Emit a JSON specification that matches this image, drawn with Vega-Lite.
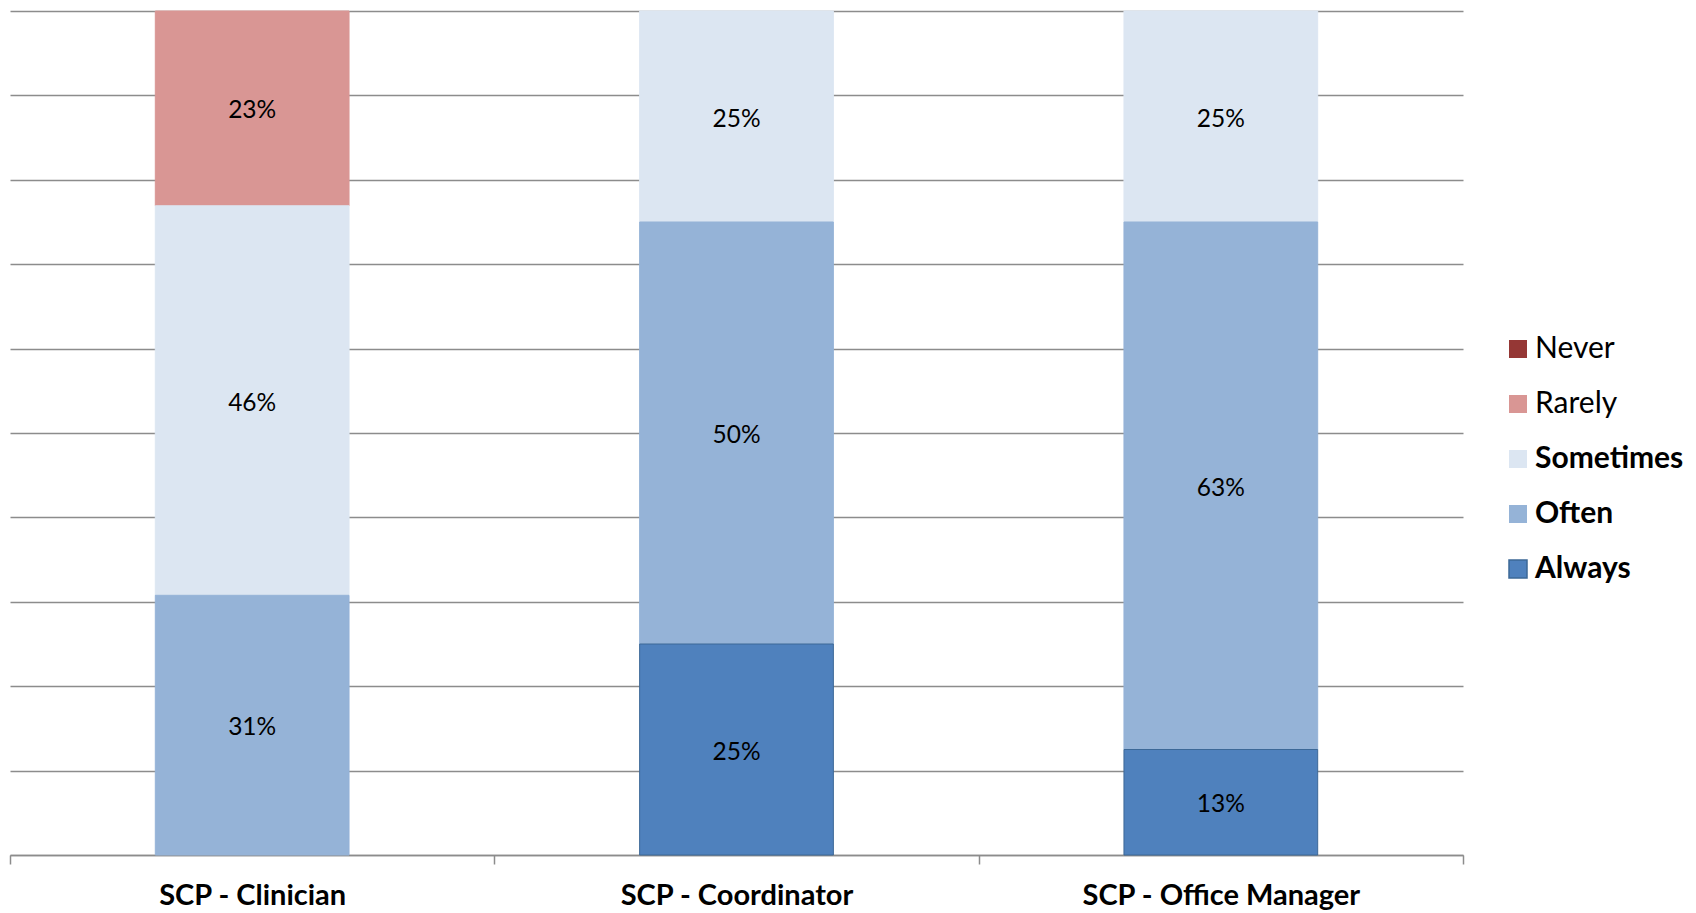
{
  "$schema": "https://vega.github.io/schema/vega-lite/v6.json",
  "width": 1453,
  "height": 844,
  "autosize": {"type": "none"},
  "padding": {"left": 10, "top": 11, "right": 233, "bottom": 58},
  "background": "white",
  "data": {"values": [
    {"role": "SCP - Clinician", "response": "Rarely", "value": 0.2308},
    {"role": "SCP - Clinician", "response": "Sometimes", "value": 0.4615},
    {"role": "SCP - Clinician", "response": "Often", "value": 0.3077},
    {"role": "SCP - Coordinator", "response": "Sometimes", "value": 0.25},
    {"role": "SCP - Coordinator", "response": "Often", "value": 0.5},
    {"role": "SCP - Coordinator", "response": "Always", "value": 0.25},
    {"role": "SCP - Office Manager", "response": "Sometimes", "value": 0.25},
    {"role": "SCP - Office Manager", "response": "Often", "value": 0.625},
    {"role": "SCP - Office Manager", "response": "Always", "value": 0.125}
  ]},
  "transform": [
    {"calculate": "indexof(['Always','Often','Sometimes','Rarely','Never'], datum.response)", "as": "ord"},
    {"stack": "value", "groupby": ["role"], "sort": [{"field": "ord", "order": "ascending"}], "as": ["y0", "y1"]},
    {"calculate": "(datum.y0+datum.y1)/2", "as": "mid"}
  ],
  "encoding": {
    "x": {
      "field": "role", "type": "nominal", "sort": ["SCP - Clinician", "SCP - Coordinator", "SCP - Office Manager"],
      "scale": {"paddingInner": 0, "paddingOuter": 0},
      "axis": {"title": null, "labelAngle": 0, "labelLimit": 0, "labelFont": "Lato", "labelFontSize": 29, "labelFontWeight": "bold", "labelColor": "black", "labelPadding": 17, "tickBand": "extent", "tickSize": 9, "tickColor": "#8c8c8c", "tickWidth": 1.5, "domainColor": "#8c8c8c", "domainWidth": 1.5, "grid": false}
    }
  },
  "layer": [
    {
      "mark": {"type": "bar", "strokeWidth": 1, "width": {"band": 0.4}},
      "encoding": {
        "y": {"field": "y0", "type": "quantitative", "scale": {"domain": [0, 1], "nice": false},
          "axis": {"title": null, "labels": false, "ticks": false, "domain": false, "values": [0, 0.1, 0.2, 0.3, 0.4, 0.5, 0.6, 0.7, 0.8, 0.9, 1], "gridColor": "#8c8c8c", "gridWidth": 1.5, "gridOpacity": 1}},
        "y2": {"field": "y1"},
        "color": {"field": "response", "type": "nominal",
          "scale": {"domain": ["Never", "Rarely", "Sometimes", "Often", "Always"], "range": ["#953735", "#D99694", "#DCE6F2", "#95B3D7", "#4F81BD"]},
          "legend": {"title": null, "orient": "none", "legendX": 1493, "legendY": 323, "symbolType": "square", "symbolSize": 324, "symbolStrokeWidth": 0, "labelFont": "Lato", "labelFontSize": 30, "labelColor": "black", "labelOffset": 2, "rowPadding": 25, "padding": 0,
            "encode": {
              "labels": {"update": {"fontWeight": {"signal": "indexof(['Never','Rarely'], datum.label) >= 0 ? 'normal' : 'bold'"}}},
              "symbols": {"update": {"stroke": {"signal": "datum.label == 'Always' ? '#3C6897' : null"}, "strokeWidth": {"signal": "datum.label == 'Always' ? 1.5 : 0"}}}
            }}
        },
        "stroke": {"field": "response", "type": "nominal",
          "scale": {"domain": ["Never", "Rarely", "Sometimes", "Often", "Always"], "range": ["#953735", "#D99694", "#DCE6F2", "#95B3D7", "#3C6897"]},
          "legend": null}
      }
    },
    {
      "mark": {"type": "text", "font": "Lato", "fontSize": 24.5, "color": "black", "dy": 3},
      "encoding": {
        "y": {"field": "mid", "type": "quantitative"},
        "text": {"field": "value", "type": "quantitative", "format": ".0%"}
      }
    }
  ],
  "config": {"view": {"stroke": null}}
}
